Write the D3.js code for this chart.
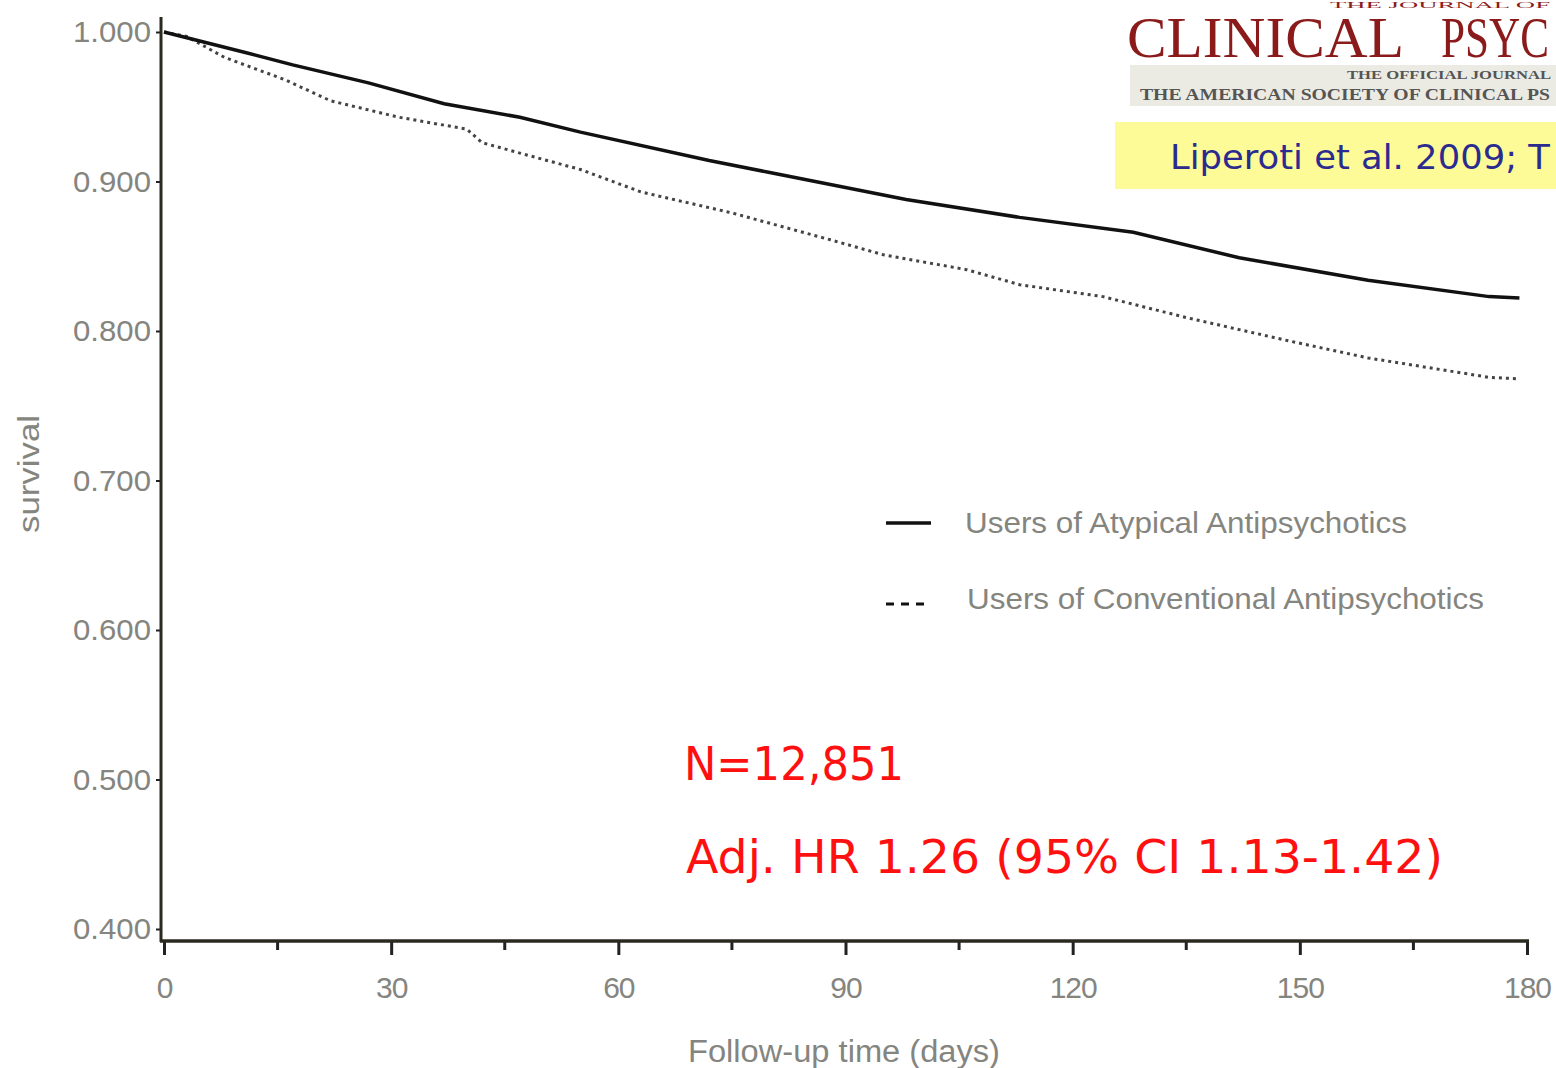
<!DOCTYPE html>
<html>
<head>
<meta charset="utf-8">
<script src="https://cdn.jsdelivr.net/npm/d3@7"></script>
<style>
  body { margin: 0; background: #fff; }
  svg { display: block; }
</style>
</head>
<body>
<script>
// Kaplan-Meier survival
const atypicalDays = [0, 11, 17, 27, 37, 47, 55, 72, 80, 98, 113, 128, 142, 159, 175, 179]
const atypicalSurv = [1.000, 0.986, 0.978, 0.966, 0.952, 0.943, 0.933, 0.914, 0.906, 0.888, 0.876, 0.866, 0.849, 0.834, 0.823, 0.822]
const convDays = [0, 3, 8, 16, 22, 31, 40, 42, 47, 55, 63, 75, 88, 95, 106, 113, 124, 135, 148, 159, 175, 179]
const convSurv = [1.000, 0.997, 0.983, 0.968, 0.954, 0.943, 0.935, 0.926, 0.919, 0.908, 0.893, 0.879, 0.861, 0.851, 0.841, 0.831, 0.823, 0.809, 0.794, 0.782, 0.769, 0.768]
const yTicks = [0.4, 0.5, 0.6, 0.7, 0.8, 0.9, 1.0]
const xTicks = [0, 30, 60, 90, 120, 150, 180]
const xMinorTicks = [15, 45, 75, 105, 135, 165]
const legendLabels = ["Users of Atypical Antipsychotics", "Users of Conventional Antipsychotics"]

const width = 1556
const height = 1068
const grey = "#858580"
const sans = "Liberation Sans, Arial, sans-serif"
const serif = "Liberation Serif, serif"

const svg = d3.select("body").append("svg")
    .attr("width", width)
    .attr("height", height)

const x = d3.scaleLinear().domain([0, 180]).range([164, 1527])
const y = d3.scaleLinear().domain([0.4, 1.0]).range([929, 32])

// y axis
const yAxis = svg.append("g")
    .attr("transform", "translate(161,0)")
    .call(d3.axisLeft(y).tickValues(yTicks).tickFormat(d3.format(".3f")).tickSize(5).tickPadding(5))
yAxis.select(".domain").remove()
yAxis.selectAll(".tick line").attr("stroke", "#222").attr("stroke-width", 2)
yAxis.selectAll(".tick text")
    .attr("fill", grey)
    .attr("font-family", sans)
    .attr("font-size", 30)
    .attr("textLength", 78)
    .attr("lengthAdjust", "spacingAndGlyphs")
svg.append("line")
    .attr("x1", 161).attr("x2", 161).attr("y1", 17).attr("y2", 942)
    .attr("stroke", "#2a2a20").attr("stroke-width", 3)

// x axis
const xAxis = svg.append("g")
    .attr("transform", "translate(0,941)")
    .call(d3.axisBottom(x).tickValues(xTicks).tickSize(14).tickPadding(22))
xAxis.select(".domain").remove()
xAxis.selectAll(".tick line").attr("stroke", "#222").attr("stroke-width", 3)
xAxis.selectAll(".tick text")
    .attr("fill", grey)
    .attr("font-family", sans)
    .attr("font-size", 30)
    .attr("letter-spacing", -1)
svg.append("g").selectAll("line")
    .data(xMinorTicks)
    .join("line")
    .attr("x1", d => x(d)).attr("x2", d => x(d))
    .attr("y1", 941).attr("y2", 950)
    .attr("stroke", "#222").attr("stroke-width", 3)
svg.append("line")
    .attr("x1", 160).attr("x2", 1529).attr("y1", 941).attr("y2", 941)
    .attr("stroke", "#2a2a20").attr("stroke-width", 3.5)

// axis titles
svg.append("text")
    .attr("transform", "translate(39,474) rotate(-90)")
    .attr("text-anchor", "middle")
    .attr("fill", grey)
    .attr("font-family", sans)
    .attr("font-size", 30)
    .attr("textLength", 118)
    .attr("lengthAdjust", "spacingAndGlyphs")
    .text("survival")
svg.append("text")
    .attr("x", 688).attr("y", 1062)
    .attr("fill", grey)
    .attr("font-family", sans)
    .attr("font-size", 31)
    .attr("textLength", 312)
    .attr("lengthAdjust", "spacingAndGlyphs")
    .text("Follow-up time (days)")

// curves
const line = d3.line()
    .x(d => x(d[0]))
    .y(d => y(d[1]))

svg.append("path")
    .datum(convDays.map((d, i) => [d, convSurv[i]]))
    .attr("d", line)
    .attr("fill", "none")
    .attr("stroke", "#444")
    .attr("stroke-width", 3)
    .attr("stroke-dasharray", "3,4")

svg.append("path")
    .datum(atypicalDays.map((d, i) => [d, atypicalSurv[i]]))
    .attr("d", line)
    .attr("fill", "none")
    .attr("stroke", "#111")
    .attr("stroke-width", 3.5)

// legend
const legendWidths = [442, 517]
const legend = svg.append("g")
legend.selectAll("line")
    .data(legendLabels)
    .join("line")
    .attr("x1", 886).attr("x2", 931)
    .attr("y1", (d, i) => 523 + i * 81).attr("y2", (d, i) => 523 + i * 81)
    .attr("stroke", "#111")
    .attr("stroke-width", (d, i) => i ? 3 : 3.5)
    .attr("stroke-dasharray", (d, i) => i ? "8,7" : null)
legend.selectAll("text")
    .data(legendLabels)
    .join("text")
    .attr("x", (d, i) => 965 + i * 2)
    .attr("y", (d, i) => 533 + i * 76)
    .attr("fill", grey)
    .attr("font-family", sans)
    .attr("font-size", 30)
    .attr("textLength", (d, i) => legendWidths[i])
    .attr("lengthAdjust", "spacingAndGlyphs")
    .text(d => d)

// annotations
svg.append("text")
    .attr("x", 684).attr("y", 780)
    .attr("fill", "#ff1010")
    .attr("font-family", "DejaVu Sans, sans-serif")
    .attr("font-size", 47)
    .attr("textLength", 220)
    .attr("lengthAdjust", "spacingAndGlyphs")
    .text("N=12,851")
svg.append("text")
    .attr("x", 686).attr("y", 873)
    .attr("fill", "#ff1010")
    .attr("font-family", "DejaVu Sans, sans-serif")
    .attr("font-size", 47)
    .attr("textLength", 757)
    .attr("lengthAdjust", "spacingAndGlyphs")
    .text("Adj. HR 1.26 (95% CI 1.13-1.42)")

// journal banner, top right
const banner = svg.append("g")
banner.append("text")
    .attr("x", 1330).attr("y", 8)
    .attr("fill", "#8b1c1c")
    .attr("font-family", serif)
    .attr("font-size", 9)
    .attr("textLength", 220)
    .attr("lengthAdjust", "spacingAndGlyphs")
    .text("THE JOURNAL OF")
banner.append("text")
    .attr("x", 1127).attr("y", 57)
    .attr("fill", "#8b1a1a")
    .attr("font-family", serif)
    .attr("font-size", 58)
    .attr("textLength", 277)
    .attr("lengthAdjust", "spacingAndGlyphs")
    .text("CLINICAL")
banner.append("text")
    .attr("x", 1441).attr("y", 57)
    .attr("fill", "#8b1a1a")
    .attr("font-family", serif)
    .attr("font-size", 58)
    .attr("textLength", 108)
    .attr("lengthAdjust", "spacingAndGlyphs")
    .text("PSYC")
banner.append("rect")
    .attr("x", 1130).attr("y", 65).attr("width", 426).attr("height", 41)
    .attr("fill", "#ebebe3")
banner.append("text")
    .attr("x", 1347).attr("y", 79)
    .attr("fill", "#555")
    .attr("font-family", serif)
    .attr("font-size", 13)
    .attr("font-weight", "bold")
    .attr("textLength", 204)
    .attr("lengthAdjust", "spacingAndGlyphs")
    .text("THE OFFICIAL JOURNAL")
banner.append("text")
    .attr("x", 1140).attr("y", 100)
    .attr("fill", "#555")
    .attr("font-family", serif)
    .attr("font-size", 16)
    .attr("font-weight", "bold")
    .attr("textLength", 410)
    .attr("lengthAdjust", "spacingAndGlyphs")
    .text("THE AMERICAN SOCIETY OF CLINICAL PS")
banner.append("rect")
    .attr("x", 1115).attr("y", 122).attr("width", 441).attr("height", 67)
    .attr("fill", "#fdfb98")
banner.append("text")
    .attr("x", 1170).attr("y", 169)
    .attr("fill", "#2b2b8f")
    .attr("font-family", "DejaVu Sans, sans-serif")
    .attr("font-size", 33)
    .attr("textLength", 380)
    .attr("lengthAdjust", "spacingAndGlyphs")
    .text("Liperoti et al. 2009; T")
</script>
</body>
</html>
